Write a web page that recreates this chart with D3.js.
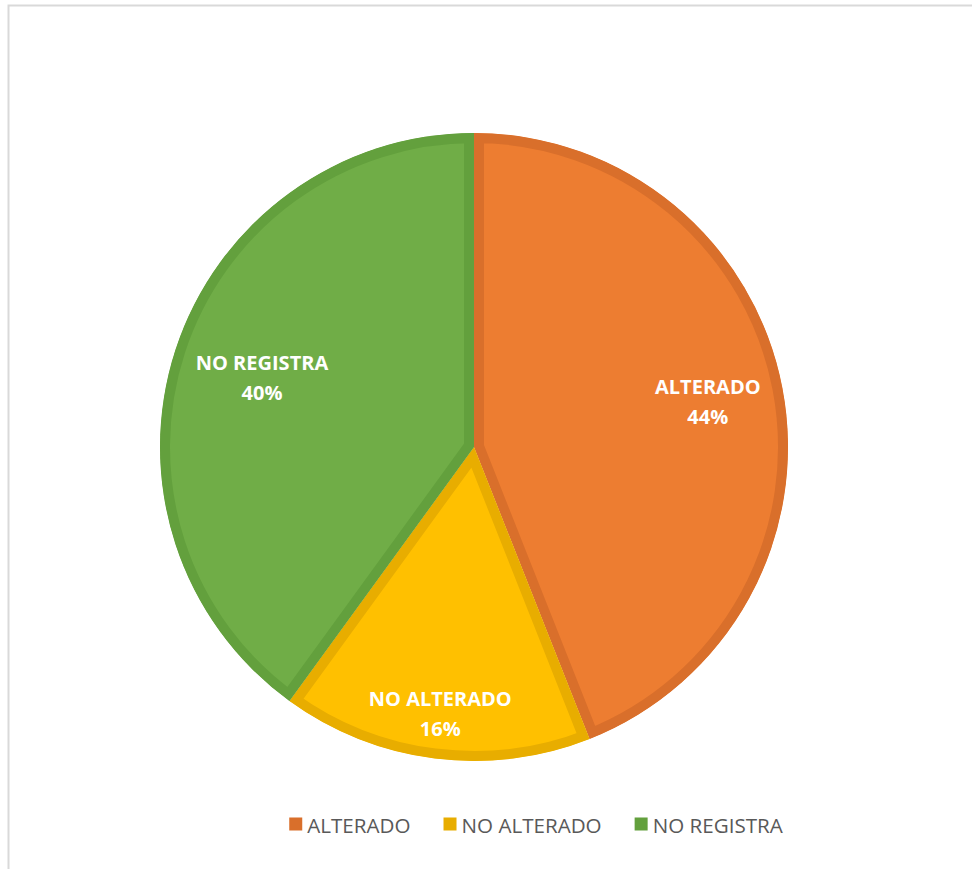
<!DOCTYPE html>
<html>
<head>
<meta charset="utf-8">
<script src="https://cdn.jsdelivr.net/npm/d3@7"></script>
<style>
  html, body { margin: 0; padding: 0; background: #fff; }
  svg { display: block; }
</style>
</head>
<body>
<svg id="chart" width="972" height="869"></svg>
<script>
// Data
const categories = ["ALTERADO", "NO ALTERADO", "NO REGISTRA"];
const values = [44, 16, 40];
const percentLabels = ["44%", "16%", "40%"];

// Styling (not data)
const fillColors = ["#ED7D31", "#FFC000", "#70AD47"];
const edgeColors = ["#D96F2B", "#E8AD00", "#63A03D"];
const labelRadiusFactor = [0.758, 0.857, 0.71];

const svg = d3.select("#chart");

// Chart frame
svg.append("rect")
  .attr("x", 8.5).attr("y", 5.5)
  .attr("width", 1200).attr("height", 1200)
  .attr("fill", "none").attr("stroke", "#d9d9d9").attr("stroke-width", 2);

const cx = 474, cy = 447, R = 314;
const g = svg.append("g").attr("transform", `translate(${cx},${cy})`);

const pie = d3.pie().sort(null).value(d => d.value);
const arcs = pie(categories.map((c, i) => ({ name: c, value: values[i], pct: percentLabels[i], i })));
const arc = d3.arc().innerRadius(0).outerRadius(R);

const defs = svg.append("defs");
arcs.forEach((a, i) => {
  defs.append("clipPath").attr("id", "clip" + i)
    .append("path").attr("d", arc(a));
});

g.selectAll("path.slice")
  .data(arcs)
  .join("path")
  .attr("class", "slice")
  .attr("d", arc)
  .attr("fill", d => fillColors[d.data.i])
  .attr("stroke", d => edgeColors[d.data.i])
  .attr("stroke-width", 20)
  .attr("stroke-linejoin", "miter")
  .attr("clip-path", d => `url(#clip${d.data.i})`);

// Data labels
const labelG = g.selectAll("g.lbl")
  .data(arcs)
  .join("g")
  .attr("class", "lbl")
  .attr("transform", d => {
    const mid = (d.startAngle + d.endAngle) / 2;
    const r = R * labelRadiusFactor[d.data.i];
    return `translate(${r * Math.sin(mid)},${-r * Math.cos(mid)})`;
  });

labelG.append("text")
  .attr("text-anchor", "middle")
  .attr("y", -8)
  .attr("fill", "#fff")
  .attr("font-family", "'Open Sans', sans-serif")
  .attr("font-weight", "bold")
  .attr("font-size", 20)
  .text(d => d.data.name);
labelG.append("text")
  .attr("text-anchor", "middle")
  .attr("y", 22)
  .attr("fill", "#fff")
  .attr("font-family", "'Open Sans', sans-serif")
  .attr("font-weight", "bold")
  .attr("font-size", 20)
  .text(d => d.data.pct);

// Legend
const legend = svg.append("g");
const legendFont = 20.6, sq = 13, gapSqText = 5, gapItems = 33;
const items = legend.selectAll("g.item").data(categories).join("g").attr("class", "item");
items.append("rect")
  .attr("width", sq).attr("height", sq)
  .attr("y", -sq / 2 - 1)
  .attr("fill", (d, i) => edgeColors[i]);
items.append("text")
  .attr("x", sq + gapSqText)
  .attr("y", 7.5)
  .attr("fill", "#595959")
  .attr("font-family", "'Open Sans', sans-serif")
  .attr("font-size", legendFont)
  .text(d => d);
const widths = [];
items.each(function () {
  widths.push(this.getBBox().width);
});
const total = d3.sum(widths) + gapItems * (widths.length - 1);
let start = 536 - total / 2;
items.attr("transform", (d, i) => {
  const tx = start;
  start += widths[i] + gapItems;
  return `translate(${tx},825)`;
});
</script>
</body>
</html>
